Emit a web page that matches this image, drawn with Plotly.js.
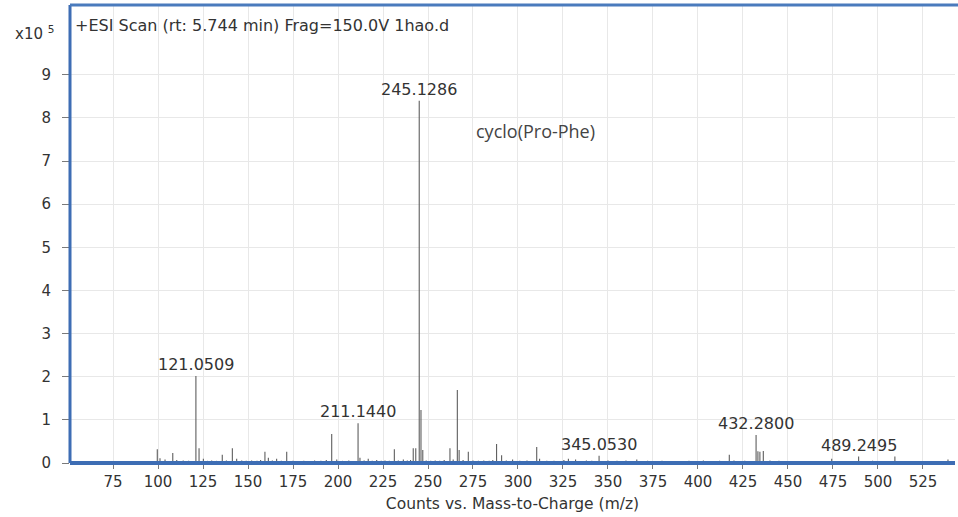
<!DOCTYPE html>
<html>
<head>
<meta charset="utf-8">
<script src="https://cdn.plot.ly/plotly-3.0.1.min.js"></script>
<style>
  html, body { margin: 0; padding: 0; background: #ffffff; }
  #chart { width: 958px; height: 517px; }
</style>
</head>
<body>
<div id="chart"></div>
<script>
// m/z of observed sticks (major + minor peaks), intensity in units of 10^5 counts
const peakMz = [
  99.6, 101.1, 103.9, 108.2, 110.4, 114.0, 117.0, 121.0509, 122.8, 125.2, 127.5, 129.8, 132.5, 135.7, 138.0,
  141.3, 143.7, 146.5, 149.0, 152.0, 155.0, 157.0, 159.4, 161.3, 163.5, 165.9, 168.5, 171.5, 175.0, 178.0,
  181.0, 184.0, 187.0, 190.5, 193.5, 196.5, 199.3, 202.5, 206.0, 211.1440, 212.2, 214.5, 216.8, 219.0,
  221.5, 224.0, 226.1, 228.5, 231.3, 233.5, 236.3, 238.5, 240.3, 241.8, 243.2, 245.1286, 246.1, 247.1,
  249.0, 251.5, 254.0, 256.5, 259.0, 262.2, 264.0, 266.3, 267.3, 269.5, 272.4, 275.0, 278.0, 281.0,
  284.0, 286.0, 288.1, 290.9, 293.5, 297.0, 301.0, 305.0, 310.4, 312.0, 316.0, 320.0, 325.5, 328.0,
  332.0, 338.0, 341.0, 345.0530, 350.0, 355.0, 360.0, 366.0, 372.0, 380.0, 388.0, 395.0, 403.0, 408.0,
  412.0, 417.4, 420.0, 426.0, 432.2800, 433.3, 434.4, 436.3, 440.0, 445.0, 452.0, 458.0, 465.0, 474.3,
  481.0, 489.2495, 497.0, 503.0, 509.4, 518.0, 530.0, 538.9
];
const peakInt = [
  0.32, 0.11, 0.08, 0.23, 0.07, 0.06, 0.05, 2.02, 0.34, 0.10, 0.05, 0.06, 0.05, 0.19, 0.06,
  0.34, 0.10, 0.06, 0.05, 0.06, 0.05, 0.07, 0.26, 0.12, 0.06, 0.10, 0.05, 0.26, 0.05, 0.04,
  0.05, 0.04, 0.06, 0.05, 0.07, 0.67, 0.08, 0.05, 0.06, 0.92, 0.12, 0.06, 0.10, 0.05,
  0.07, 0.05, 0.06, 0.05, 0.32, 0.06, 0.08, 0.06, 0.07, 0.34, 0.34, 8.40, 1.23, 0.30,
  0.06, 0.05, 0.06, 0.05, 0.07, 0.34, 0.08, 1.69, 0.30, 0.07, 0.26, 0.06, 0.05, 0.06,
  0.05, 0.07, 0.44, 0.18, 0.06, 0.08, 0.05, 0.06, 0.37, 0.10, 0.05, 0.05, 0.07, 0.10,
  0.08, 0.06, 0.05, 0.17, 0.06, 0.05, 0.06, 0.08, 0.05, 0.05, 0.04, 0.05, 0.06, 0.04,
  0.05, 0.19, 0.06, 0.05, 0.65, 0.27, 0.26, 0.28, 0.06, 0.05, 0.04, 0.04, 0.04, 0.10,
  0.04, 0.15, 0.05, 0.04, 0.15, 0.04, 0.04, 0.08
];

// labelled peaks
const labelMz = [121.0509, 211.1440, 245.1286, 345.0530, 432.2800, 489.2495];
const labelText = ["121.0509", "211.1440", "245.1286", "345.0530", "432.2800", "489.2495"];

const xTicks = [75, 100, 125, 150, 175, 200, 225, 250, 275, 300, 325, 350, 375, 400, 425, 450, 475, 500, 525];
const yTicks = [0, 1, 2, 3, 4, 5, 6, 7, 8, 9];

const titleText = "+ESI Scan (rt: 5.744 min) Frag=150.0V 1hao.d";
const xTitle = "Counts vs. Mass-to-Charge (m/z)";
const compoundText = "cyclo(Pro-Phe)";
const compoundPos = [310, 7.7];

// build stick spectrum from arrays
const sx = [], sy = [];
for (let i = 0; i < peakMz.length; i++) {
  sx.push(peakMz[i], peakMz[i], null);
  sy.push(0, peakInt[i], null);
}

const trace = {
  type: 'scatter', mode: 'lines', x: sx, y: sy,
  line: { color: '#5e5e5e', width: 1.1 },
  hoverinfo: 'skip', showlegend: false, cliponaxis: true
};

const FONT = 'DejaVu Sans, Arial, sans-serif';

const annotations = labelMz.map((m, k) => {
  const idx = peakMz.indexOf(m);
  return {
    x: m, y: peakInt[idx], xref: 'x', yref: 'y', text: labelText[k],
    showarrow: false, xanchor: 'center', yanchor: 'bottom', yshift: 0,
    font: { family: FONT, size: 16, color: '#333333' }
  };
});
annotations.push({
  x: compoundPos[0], y: compoundPos[1], xref: 'x', yref: 'y', text: compoundText,
  showarrow: false, xanchor: 'center', yanchor: 'middle',
  font: { family: 'Open Sans, sans-serif', size: 18, color: '#444444' }
});
annotations.push({
  x: 0, y: 1, xref: 'paper', yref: 'paper', text: titleText,
  showarrow: false, xanchor: 'left', yanchor: 'top', xshift: 3, yshift: -9,
  font: { family: FONT, size: 16, color: '#333333' }
});
annotations.push({
  x: 0, y: 1, xref: 'paper', yref: 'paper', text: 'x10 <sup>5</sup>',
  showarrow: false, xanchor: 'right', yanchor: 'top', xshift: -14, yshift: -16,
  font: { family: FONT, size: 15, color: '#333333' }
});

const blue = '#3d6db4';
const layout = {
  width: 958, height: 517,
  margin: { l: 70, r: 3, t: 5, b: 54 },
  paper_bgcolor: '#ffffff', plot_bgcolor: '#ffffff',
  showlegend: false,
  xaxis: {
    range: [51.1, 542.8], tickvals: xTicks, ticktext: xTicks.map(String),
    ticks: 'outside', ticklen: 5, tickcolor: '#7a7a7a', tickwidth: 1,
    showgrid: true, gridcolor: '#e8e8e8', gridwidth: 1,
    zeroline: false, showline: false,
    tickfont: { family: FONT, size: 15, color: '#333333' },
    title: { text: xTitle, standoff: 8, font: { family: FONT, size: 15.5, color: '#333333' } }
  },
  yaxis: {
    range: [0, 10.62], tickvals: yTicks, ticktext: yTicks.map(String),
    ticks: 'outside', ticklen: 7, tickcolor: '#7a7a7a', tickwidth: 1,
    ticklabelstandoff: 8,
    showgrid: true, gridcolor: '#e8e8e8', gridwidth: 1,
    zeroline: false, showline: false,
    tickfont: { family: FONT, size: 15, color: '#333333' }
  },
  shapes: [
    { type: 'line', xref: 'paper', yref: 'paper', x0: 0, x1: 0, y0: 0, y1: 1, line: { color: blue, width: 3 } },
    { type: 'line', xref: 'paper', yref: 'paper', x0: 0, x1: 1, y0: 0, y1: 0, line: { color: blue, width: 4 } },
    { type: 'line', xref: 'paper', yref: 'paper', x0: 0, x1: 1.01, y0: 1, y1: 1, line: { color: '#4a7bbd', width: 3 } }
  ],
  annotations: annotations
};

Plotly.newPlot('chart', [trace], layout, { displayModeBar: false, staticPlot: true });
</script>
</body>
</html>
